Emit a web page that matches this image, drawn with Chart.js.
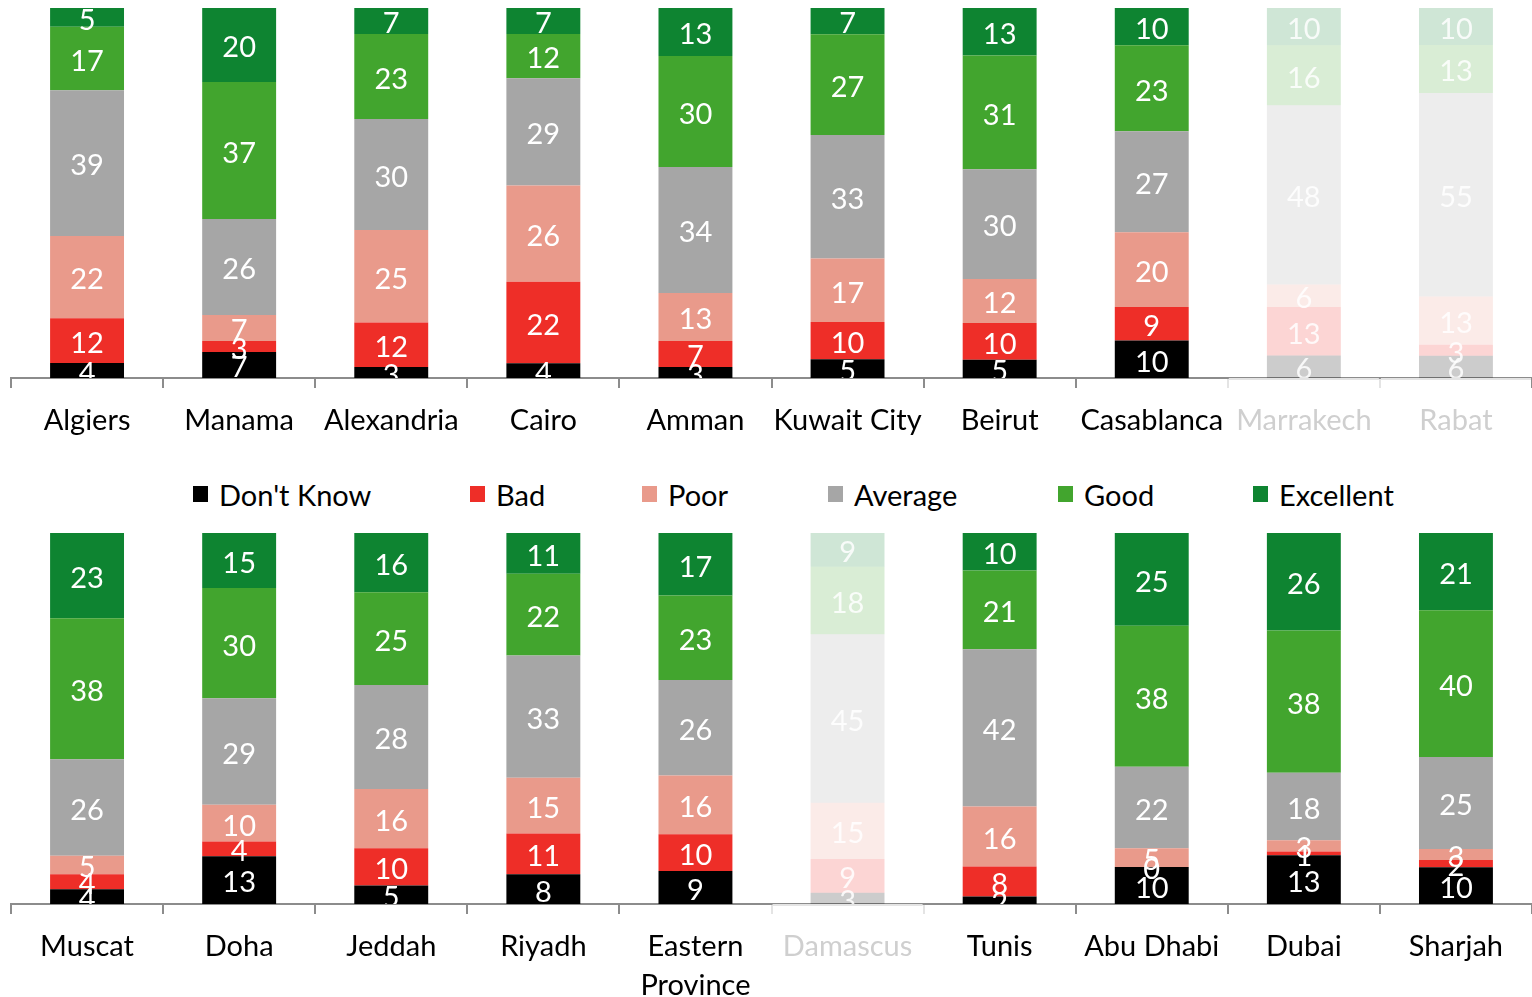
<!DOCTYPE html>
<html lang="en">
  <head>
    <meta charset="UTF-8" />
    <title>City ratings</title>
    <style>
      html,
      body {
        margin: 0;
        padding: 0;
        width: 1532px;
        height: 997px;
        overflow: hidden;
        background: #fff;
        font-family: Lato, "Open Sans", sans-serif;
      }
      .panel {
        position: absolute;
        left: 0;
      }
      #top-panel {
        top: 0;
      }
      #bottom-panel {
        top: 525px;
      }
      #legend {
        position: absolute;
        top: 476px;
        left: 0;
        width: 1532px;
        height: 36px;
      }
      .item {
        position: absolute;
        top: 0;
        display: flex;
        align-items: center;
        height: 36px;
        font-size: 29px;
        color: #000;
        white-space: nowrap;
      }
      .item span.box {
        display: inline-block;
        width: 15px;
        height: 16px;
        margin-right: 11px;
      }
    </style>
  </head>
  <body>
    <div class="panel" id="top-panel"><canvas id="top" width="1532" height="453"></canvas></div>
    <div id="legend"></div>
    <div class="panel" id="bottom-panel"><canvas id="bottom" width="1532" height="493"></canvas></div>

    <script src="https://cdn.jsdelivr.net/npm/chart.js@4.4.0/dist/chart.umd.min.js"></script>
    <script>
      const SERIES = ["Don't Know", "Bad", "Poor", "Average", "Good", "Excellent"];
      const COLORS = ["0,0,0", "238,46,40", "233,154,139", "166,166,166", "66,165,46", "14,132,49"];
      const FADED = ["Marrakech", "Rabat", "Damascus"];

      // top row
      const topCities = ["Algiers", "Manama", "Alexandria", "Cairo", "Amman", "Kuwait City", "Beirut", "Casablanca", "Marrakech", "Rabat"];
      const topDontKnow = [4, 7, 3, 4, 3, 5, 5, 10, 6, 6];
      const topBad = [12, 3, 12, 22, 7, 10, 10, 9, 13, 3];
      const topPoor = [22, 7, 25, 26, 13, 17, 12, 20, 6, 13];
      const topAverage = [39, 26, 30, 29, 34, 33, 30, 27, 48, 55];
      const topGood = [17, 37, 23, 12, 30, 27, 31, 23, 16, 13];
      const topExcellent = [5, 20, 7, 7, 13, 7, 13, 10, 10, 10];

      // bottom row
      const bottomCities = ["Muscat", "Doha", "Jeddah", "Riyadh", "Eastern Province", "Damascus", "Tunis", "Abu Dhabi", "Dubai", "Sharjah"];
      const bottomDontKnow = [4, 13, 5, 8, 9, 3, 2, 10, 13, 10];
      const bottomBad = [4, 4, 10, 11, 10, 9, 8, 0, 1, 2];
      const bottomPoor = [5, 10, 16, 15, 16, 15, 16, 5, 3, 3];
      const bottomAverage = [26, 29, 28, 33, 26, 45, 42, 22, 18, 25];
      const bottomGood = [38, 30, 25, 22, 23, 18, 21, 38, 38, 40];
      const bottomExcellent = [23, 15, 16, 11, 17, 9, 10, 25, 26, 21];

      const legendX = [193, 470, 642, 828, 1058, 1253];

      const FONT = { family: "Lato, 'Open Sans', sans-serif", size: 29, lineHeight: 1.345 };

      function buildChart(canvasId, cities, series) {
        const labels = cities.map((c) => (c === "Eastern Province" ? ["Eastern", "Province"] : c));
        const faded = cities.map((c) => FADED.includes(c));
        const totals = cities.map((_, i) => series.reduce((s, arr) => s + arr[i], 0));

        // value labels centred on each segment, clipped to the plot area
        const segmentLabels = {
          id: "segmentLabels",
          afterDatasetsDraw(chart) {
            const { ctx, chartArea } = chart;
            ctx.save();
            ctx.beginPath();
            ctx.rect(chartArea.left, chartArea.top, chartArea.width, chartArea.height);
            ctx.clip();
            ctx.font = `${FONT.size}px ${FONT.family}`;
            ctx.textAlign = "center";
            ctx.textBaseline = "middle";
            series.forEach((values, di) => {
              const meta = chart.getDatasetMeta(di);
              meta.data.forEach((bar, i) => {
                ctx.fillStyle = faded[i] ? "rgba(255,255,255,0.85)" : "#fff";
                ctx.fillText(String(values[i]), bar.x, (bar.y + bar.base) / 2 + 3);
              });
            });
            ctx.restore();
          },
        };

        // lighter axis line under greyed-out cities
        const fadedAxis = {
          id: "fadedAxis",
          afterDraw(chart) {
            const { ctx, chartArea } = chart;
            const x = chart.scales.x;
            const step = x.width / cities.length;
            ctx.save();
            ctx.strokeStyle = "#e4e4e4";
            ctx.lineWidth = 2;
            faded.forEach((f, i) => {
              if (!f) return;
              const c = x.getPixelForValue(i);
              ctx.beginPath();
              ctx.moveTo(c - step / 2 + 1, chartArea.bottom + 1);
              ctx.lineTo(c + step / 2 - 1, chartArea.bottom + 1);
              ctx.stroke();
            });
            ctx.restore();
          },
        };

        const datasets = series.map((values, si) => ({
          label: SERIES[si],
          data: values.map((v, i) => (v * 100) / totals[i]),
          backgroundColor: faded.map((f) => `rgba(${COLORS[si]},${f ? 0.2 : 1})`),
          borderWidth: 0,
          barPercentage: 0.486,
          categoryPercentage: 1,
        }));

        return new Chart(document.getElementById(canvasId), {
          type: "bar",
          data: { labels, datasets },
          options: {
            responsive: false,
            animation: false,
            layout: { padding: { top: 8, left: 11, right: 0, bottom: 0 } },
            plugins: { legend: { display: false }, tooltip: { enabled: false } },
            scales: {
              x: {
                stacked: true,
                border: { color: "#8c8c8c", width: 2 },
                grid: {
                  offset: true,
                  drawOnChartArea: false,
                  tickLength: 10,
                  lineWidth: 2,
                  color: (ctx) => (faded[ctx.index] || faded[ctx.index - 1] ? "#e4e4e4" : "#8c8c8c"),
                },
                ticks: {
                  autoSkip: false,
                  maxRotation: 0,
                  padding: 13,
                  font: FONT,
                  color: (ctx) => (faded[ctx.index] ? "#cfcfcf" : "#000"),
                },
              },
              y: { stacked: true, display: false, min: 0, max: 100 },
            },
          },
          plugins: [segmentLabels, fadedAxis],
        });
      }

      const legend = document.getElementById("legend");
      SERIES.forEach((name, i) => {
        const item = document.createElement("div");
        item.className = "item";
        item.style.left = legendX[i] + "px";
        item.innerHTML = `<span class="box" style="background: rgb(${COLORS[i]})"></span>${name}`;
        legend.appendChild(item);
      });

      buildChart("top", topCities, [topDontKnow, topBad, topPoor, topAverage, topGood, topExcellent]);
      buildChart("bottom", bottomCities, [bottomDontKnow, bottomBad, bottomPoor, bottomAverage, bottomGood, bottomExcellent]);
    </script>
  </body>
</html>
